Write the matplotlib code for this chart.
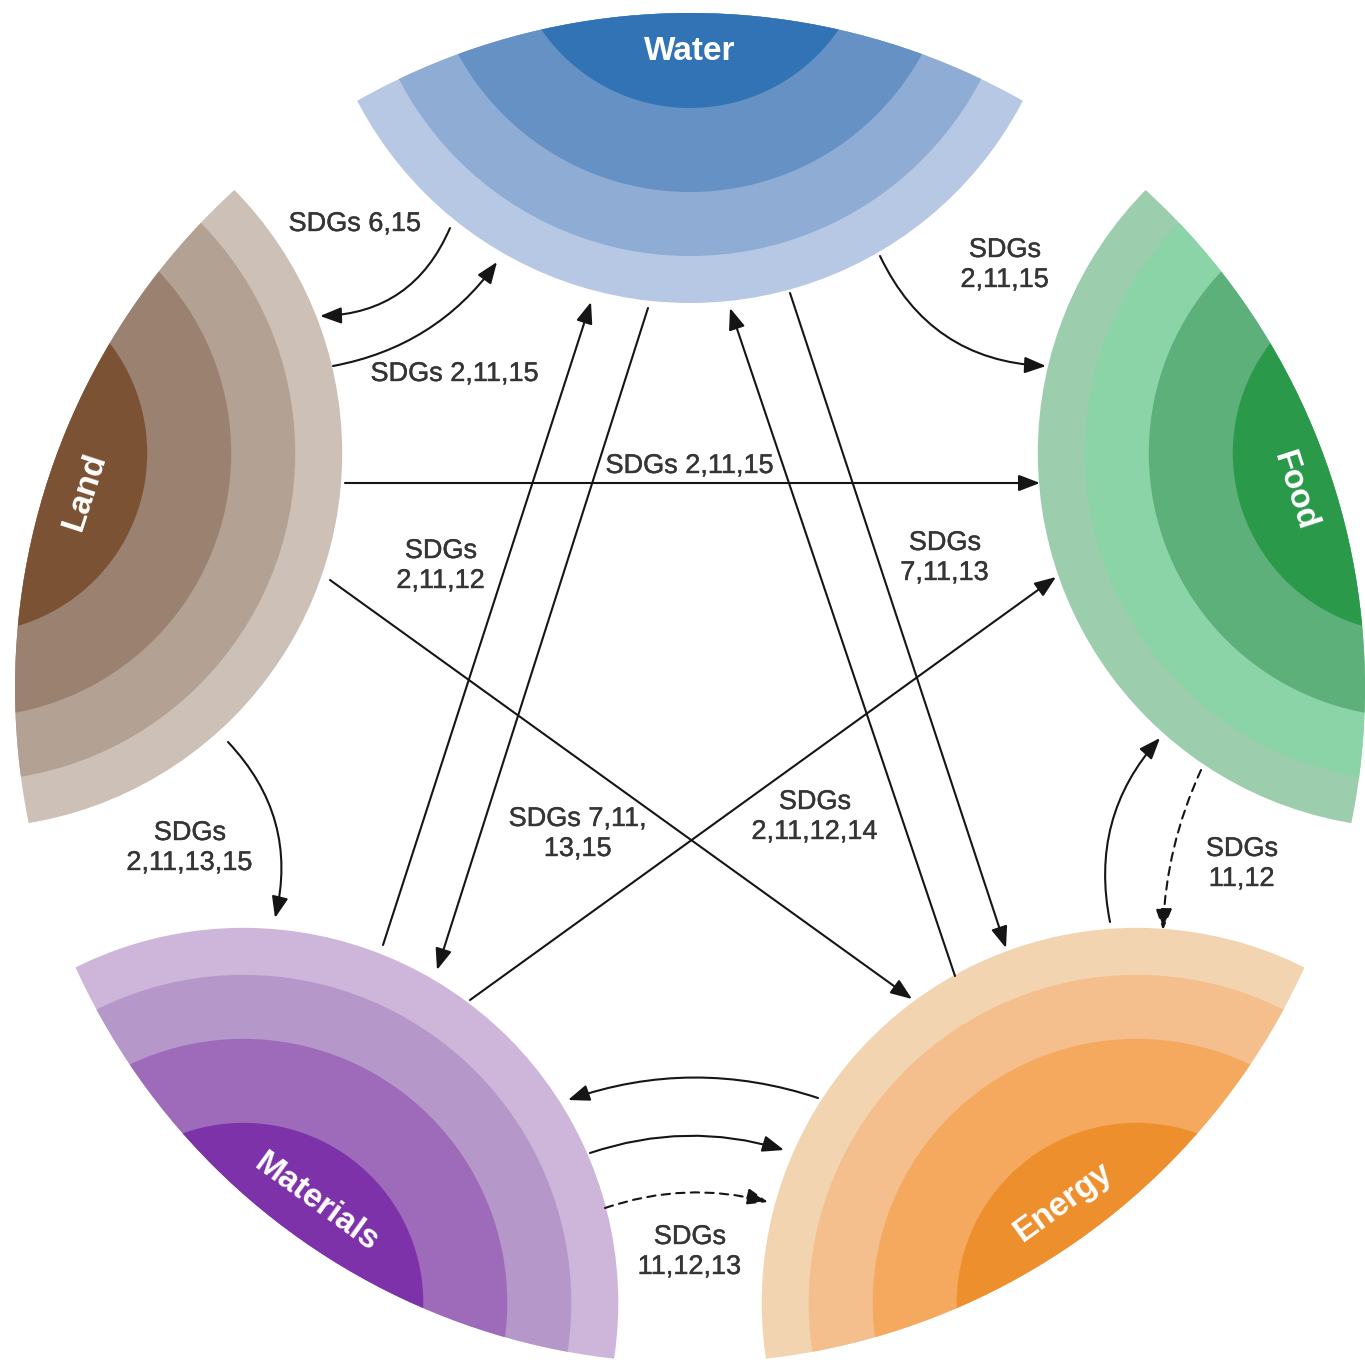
import numpy as np
import matplotlib.pyplot as plt
import matplotlib.patheffects as pe
from matplotlib.patches import Circle, FancyArrowPatch

plt.rcParams['font.family'] = ['Liberation Sans', 'DejaVu Sans']

# the five resources, placed on a pentagon (angle in degrees, counter-clockwise from east)
names = ['Water', 'Land', 'Materials', 'Energy', 'Food']
angles = [90, 162, 234, 306, 18]

# colours of the concentric bands, outer (light) to inner (dark)
band_colors = {
    'Water': ['#B6C8E3', '#8EACD4', '#6691C4', '#3173B5'],
    'Land': ['#CCC0B7', '#B3A294', '#9A8170', '#7C5235'],
    'Materials': ['#CDB6D9', '#B598C9', '#9D6BB9', '#7E32A9'],
    'Energy': ['#F2D4B1', '#F5BE8D', '#F5A95F', '#EE8F2E'],
    'Food': ['#9CCDAD', '#8BD4A8', '#5EB07B', '#2A9A4A'],
}

# links between resources (arrow head at the "to" end)
links_from = ['Water', 'Land', 'Water', 'Land', 'Materials', 'Water', 'Energy', 'Water',
              'Materials', 'Land', 'Land', 'Energy', 'Food', 'Energy', 'Materials', 'Materials']
links_to = ['Land', 'Water', 'Food', 'Food', 'Water', 'Materials', 'Water', 'Energy',
            'Food', 'Energy', 'Materials', 'Food', 'Energy', 'Materials', 'Energy', 'Energy']
link_dashed = [False] * 12 + [True, False, False, True]

labels = ['SDGs 6,15', 'SDGs 2,11,15', 'SDGs\n2,11,15', 'SDGs 2,11,15', 'SDGs\n2,11,12',
          'SDGs\n7,11,13', 'SDGs 7,11,\n13,15', 'SDGs\n2,11,12,14', 'SDGs\n2,11,13,15',
          'SDGs\n11,12', 'SDGs\n11,12,13']

# ---- layout (pixel coordinates, y down) ----
W, H = 1365, 1363
cx, cy, R = 690, 688, 675          # outer circle that trims all the fans
D = 760                            # distance of each fan's centre from the middle
band_radii = [375, 328, 264, 180]
r_name = 636

link_start = [(450, 228), (333, 366), (880, 256), (345, 483), (383, 945), (648, 308),
              (955, 976), (790, 293), (470, 1000), (330, 580), (228, 742), (1110, 922),
              (1201, 770), (818, 1098), (590, 1153), (605, 1208)]
link_end = [(320, 316), (497, 262), (1046, 366), (1040, 483), (591, 302), (437, 970),
            (730, 308), (1006, 948), (1056, 577), (912, 999), (275, 918), (1160, 738),
            (1163, 930), (568, 1100), (784, 1150), (768, 1202)]
link_bend = [0.32, 0.2, 0.3, 0, 0, 0, 0, 0, 0, 0, 0.27, 0.25, 0.1, 0.17, 0.16, 0.15]

label_pos = [(355, 224), (455, 374), (1005, 265), (690, 466), (441, 566), (945, 558),
             (578, 834), (815, 817), (190, 848), (1242, 864), (690, 1252)]

fig = plt.figure(figsize=(W / 100, H / 100), dpi=100)
ax = fig.add_axes([0, 0, 1, 1])
ax.set_xlim(0, W)
ax.set_ylim(H, 0)
ax.axis('off')

big = Circle((cx, cy), R, facecolor='none', edgecolor='none')
ax.add_patch(big)

for name, ang in zip(names, angles):
    t = np.radians(ang)
    px, py = cx + D * np.cos(t), cy - D * np.sin(t)
    for r, c in zip(band_radii, band_colors[name]):
        disc = Circle((px, py), r, facecolor=c, edgecolor='none', zorder=1)
        ax.add_patch(disc)
        disc.set_clip_path(big)
    rot = ang - 90
    if rot > 90:
        rot -= 180
    ax.text(cx + r_name * np.cos(t), cy - r_name * np.sin(t), name, color='white',
            fontsize=24, fontweight='bold', rotation=rot, rotation_mode='anchor',
            ha='center', va='center', zorder=4)


def draw_link(p, q, bend, dashed):
    if bend:
        # bend the arc towards the middle of the figure
        mx, my = (p[0] + q[0]) / 2, (p[1] + q[1]) / 2
        nx, ny = -(q[1] - p[1]), q[0] - p[0]
        if nx * (cx - mx) + ny * (cy - my) < 0:
            bend = -bend
    ls = (0, (4, 3)) if dashed else '-'
    a = FancyArrowPatch(p, q, connectionstyle=f'arc3,rad={bend}',
                        arrowstyle='-|>,head_length=0.65,head_width=0.25',
                        mutation_scale=20, lw=1.5, color='#151515', linestyle=ls,
                        shrinkA=0, shrinkB=0, zorder=3)
    ax.add_patch(a)


for p, q, b, d in zip(link_start, link_end, link_bend, link_dashed):
    draw_link(p, q, b, d)

for txt, (x, y) in zip(labels, label_pos):
    ax.text(x, y, txt, fontsize=19.5, color='#353535', ha='center', va='center',
            linespacing=1.2, zorder=5,
            path_effects=[pe.withStroke(linewidth=0.3, foreground='#353535')])

fig.savefig('out.png', dpi=100)
